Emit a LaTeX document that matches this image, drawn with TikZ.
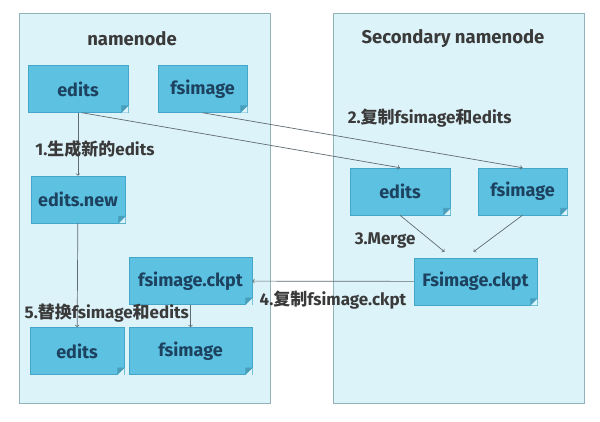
\documentclass[tikz,border=0pt]{standalone}
\usepackage{fontspec}
\setmainfont{Fira Sans}
\newfontfamily\cjk{Noto Sans CJK SC}
\usetikzlibrary{positioning}

\definecolor{panelfill}{HTML}{DDF3FA}
\definecolor{panelline}{HTML}{93B3BC}
\definecolor{filefill}{HTML}{5DC1E1}
\definecolor{fileline}{HTML}{45A6C9}
\definecolor{filetext}{HTML}{1D4260}
\definecolor{labeltext}{HTML}{3A3A3A}
\definecolor{arrowline}{HTML}{5F6B70}

\tikzset{
  panel/.style={fill=panelfill, draw=panelline, line width=0.9pt},
  file/.style={fill=filefill, draw=fileline, line width=0.5pt, text=filetext,
    inner sep=0pt, minimum height=47pt, font=\fontsize{18}{21}\selectfont\bfseries},
  lbl/.style={text=labeltext, inner sep=1pt, font=\fontsize{17}{20}\selectfont\bfseries},
  title/.style={text=labeltext, inner sep=1pt, font=\fontsize{18.5}{22}\selectfont\bfseries},
  flow/.style={->, draw=arrowline, line width=0.7pt}
}

\begin{document}
\begin{tikzpicture}[x=1pt, y=-1pt]
      \useasboundingbox (0,0) rectangle (600,422);
      \fill[white] (0,0) rectangle (600,422);
      \draw[panel] (19,13) rectangle (270,403);
      \draw[panel] (333,13) rectangle (584,403);

      \node[title] (t1) at (132,39) {namenode};
      \node[title] (t2) at (453,39) {Secondary namenode};

      \node[file, minimum width=100pt] (1) at (78,89) {edits};
      \node[file, minimum width=89pt] (2) at (202.5,89) {fsimage};
      \node[file, minimum width=94pt] (3) at (78,199.5) {edits.new};
      \node[file, minimum width=123pt] (4) at (190.5,281) {fsimage.ckpt};
      \node[file, minimum width=94pt] (5) at (77,351) {edits};
      \node[file, minimum width=123pt] (6) at (190.5,351) {fsimage};
      \node[file, minimum width=100pt] (7) at (400,191.5) {edits};
      \node[file, minimum width=89pt] (8) at (522.5,191.5) {fsimage};
      \node[file, minimum width=123pt] (9) at (475.5,281.5) {Fsimage.ckpt};

      % folded corner
      \foreach \n in {1,...,9} {
        \fill[panelfill] (\n.south east) -- ([xshift=-7pt]\n.south east) -- ([yshift=7pt]\n.south east) -- cycle;
        \filldraw[fill=filefill!82!black, draw=fileline, line width=0.5pt]
          ([xshift=-7pt]\n.south east) -- ([yshift=7pt]\n.south east) -- ([shift={(-7pt,7pt)}]\n.south east) -- cycle;
      }

      \draw[flow] (1) -- node[lbl, xshift=17pt, yshift=-4.5pt] (a1) {1.{\cjk 生成新的}edits} (3);
      \draw[flow] ([xshift=4pt]1.south) -- (7.north);
      \draw[flow] (2.south) -- node[lbl, pos=0.71, yshift=34pt] (a2) {2.{\cjk 复制}fsimage{\cjk 和}edits} (8.north);
      \draw[flow] (7.south) -- node[lbl, pos=0.7, xshift=-46pt] (a3) {3.Merge} ([shift={(-31pt,6pt)}]9.north);
      \draw[flow] (8.south) -- ([shift={(-2pt,6pt)}]9.north);
      \draw[flow] (9) -- node[lbl, yshift=-19pt] (a4) {4.{\cjk 复制}fsimage.ckpt} (4);
      \draw[flow] (3) -- node[lbl, pos=0.865, xshift=29.5pt] (a5) {5.{\cjk 替换}fsimage{\cjk 和}edits} (5);
      \draw[flow] (4) -- (6);
    \end{tikzpicture}
\end{document}
